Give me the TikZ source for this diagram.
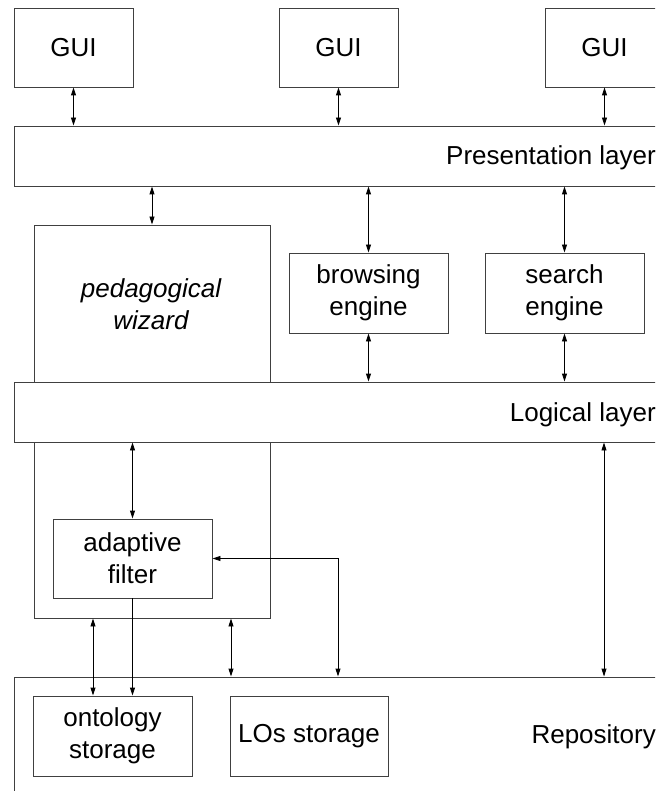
\documentclass[tikz,border=0pt]{standalone}
\usepackage{fontspec}
\setmainfont{Liberation Sans}
\usetikzlibrary{arrows.meta,calc}
\begin{document}
\begin{tikzpicture}[x=1pt,y=-1pt,
  box/.style={draw=black!75, line width=0.9pt, fill=white, inner sep=0pt, align=center,
    font=\fontsize{26}{32}\selectfont},
  conn/.style={line width=0.9pt, {Triangle[length=8pt,width=5pt]}-{Triangle[length=8pt,width=5pt]}},
  oneway/.style={line width=0.9pt, -{Triangle[length=8pt,width=5pt]}},
  lbl/.style={inner sep=0pt, font=\fontsize{26}{32}\selectfont}]
\useasboundingbox (0,0) rectangle (655,791);
\clip (0,0) rectangle (655,791);
% x positions of connectors
\coordinate (x93) at (93,0);
\coordinate (x152) at (152,0);
\coordinate (x231) at (231,0);
\coordinate (x338) at (338,0);
\coordinate (x604) at (604,0);
% GUIs
\node[box, minimum width=119pt, minimum height=79pt] (gui1) at (73.5,47.5) {GUI};
\node[box, minimum width=119pt, minimum height=79pt] (gui2) at (338.5,47.5) {GUI};
\node[box, minimum width=119pt, minimum height=79pt] (gui3) at (604.5,47.5) {GUI};
% presentation layer
\node[box, minimum width=666pt, minimum height=60pt] (pres) at (347,156) {};
\node[lbl, anchor=base east] (preslbl) at (656,165) {Presentation layer};
% wizard
\node[box, minimum width=236pt, minimum height=393pt] (wiz) at (152,421.5) {};
\node[lbl, align=center, font=\fontsize{26}{32}\selectfont\itshape] (wizlbl) at (151,304) {pedagogical\\wizard};
% engines
\node[box, minimum width=159pt, minimum height=80pt] (bro) at (368.5,293) {browsing\\engine};
\node[box, minimum width=159pt, minimum height=80pt] (sea) at (564.5,293) {search\\engine};
% logical layer
\node[box, minimum width=666pt, minimum height=60pt] (log) at (347,412) {};
\node[lbl, anchor=base east] (loglbl) at (656,421) {Logical layer};
% adaptive filter
\node[box, minimum width=159pt, minimum height=79pt] (filt) at (132.5,558.5) {adaptive\\filter};
% repository
\node[box, minimum width=666pt, minimum height=153pt] (repo) at (347,753.5) {};
\node[lbl, anchor=base east] (repolbl) at (656,743) {Repository};
\node[box, minimum width=159pt, minimum height=80pt] (onto) at (112.5,736) {ontology\\storage};
\node[box, minimum width=158pt, minimum height=80pt] (los) at (309,736) {LOs storage};
% connectors
\draw[conn] (gui1.south) -- (gui1.south |- pres.north);
\draw[conn] (gui2.south) -- (gui2.south |- pres.north);
\draw[conn] (gui3.south) -- (gui3.south |- pres.north);
\draw[conn] (x152 |- pres.south) -- (x152 |- wiz.north);
\draw[conn] (bro.north |- pres.south) -- (bro.north);
\draw[conn] (sea.north |- pres.south) -- (sea.north);
\draw[conn] (bro.south) -- (bro.south |- log.north);
\draw[conn] (sea.south) -- (sea.south |- log.north);
\draw[conn] (filt.north |- log.south) -- (filt.north);
\draw[conn] (filt.east) -| (x338 |- repo.north);
\draw[conn] (x604 |- log.south) -- (x604 |- repo.north);
\draw[conn] (x93 |- wiz.south) -- (x93 |- onto.north);
\draw[oneway] (filt.south) -- (filt.south |- onto.north);
\draw[conn] (x231 |- wiz.south) -- (x231 |- repo.north);
\end{tikzpicture}
\end{document}
